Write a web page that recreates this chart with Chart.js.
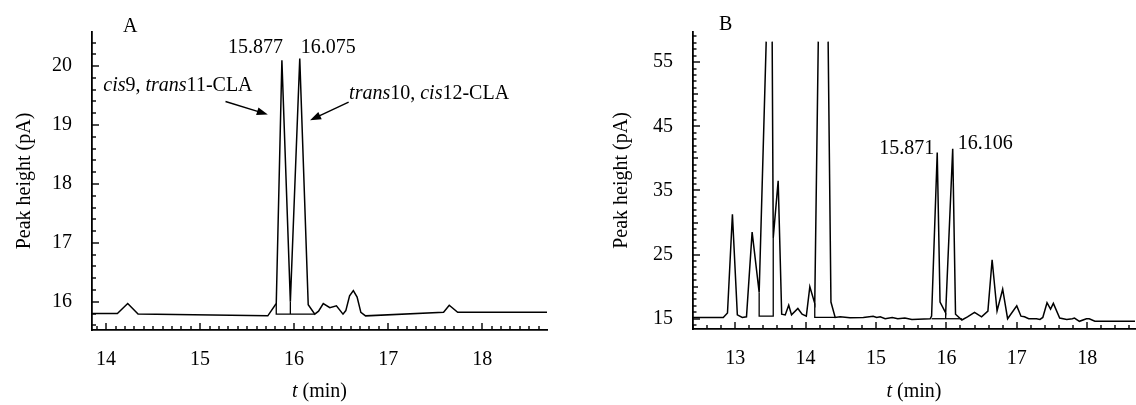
<!DOCTYPE html>
<html><head><meta charset="utf-8">
<script src="https://cdn.jsdelivr.net/npm/chart.js@4.4.1/dist/chart.umd.min.js"></script>
<style>
html,body{margin:0;padding:0;background:#fff;}
#wrap{position:relative;width:1136px;height:405px;overflow:hidden;}
#ca{position:absolute;left:0;top:0;width:560px;height:405px;}
#cb{position:absolute;left:560px;top:0;width:576px;height:405px;}
</style></head><body>
<div id="wrap"><canvas id="ca" width="560" height="405"></canvas><canvas id="cb" width="576" height="405"></canvas></div>
<script>
// ---------- Panel A data ----------
const timeA   = [13.85, 14.12, 14.23, 14.34, 15.72, 15.81, 15.87, 15.96, 16.06, 16.15, 16.22, 16.26, 16.31, 16.38, 16.45, 16.52, 16.55, 16.59, 16.63, 16.67, 16.71, 16.76, 17.59, 17.65, 17.74, 18.69];
const signalA = [15.80, 15.80, 15.97, 15.79, 15.76, 15.97, 20.10, 16.00, 20.13, 15.95, 15.79, 15.84, 15.97, 15.90, 15.93, 15.79, 15.85, 16.10, 16.19, 16.08, 15.82, 15.76, 15.82, 15.94, 15.82, 15.82];
const baseTimeA  = [15.81, 15.81, 16.22];
const baseLevelA = [15.96, 15.79, 15.79];
const dropTimeA  = [15.96, 15.96];
const dropLevelA = [16.00, 15.79];
const xTicksA = [14, 15, 16, 17, 18];
const yTicksA = [16, 17, 18, 19, 20];
const peakLabelsA = ['15.877', '16.075'];

// ---------- Panel B data ----------
const timeB   = [12.40, 12.83, 12.89, 12.96, 13.03, 13.10, 13.16, 13.24, 13.34, 13.44, 13.48, 13.525, 13.54, 13.61, 13.66, 13.71, 13.76, 13.80, 13.89, 13.95, 14.01, 14.06, 14.13, 14.18, 14.25, 14.32, 14.36, 14.42, 14.49, 14.63, 14.82, 14.96, 15.01, 15.06, 15.13, 15.23, 15.31, 15.41, 15.51, 15.77, 15.79, 15.87, 15.91, 15.99, 16.09, 16.13, 16.22, 16.30, 16.40, 16.50, 16.59, 16.65, 16.72, 16.80, 16.87, 17.00, 17.06, 17.11, 17.17, 17.28, 17.33, 17.37, 17.43, 17.48, 17.52, 17.61, 17.71, 17.79, 17.82, 17.89, 17.99, 18.03, 18.11, 18.68];
const signalB = [15.2, 15.2, 15.9, 31.3, 15.6, 15.2, 15.3, 28.5, 19.1, 58.2, null, 58.2, 27.6, 36.5, 15.7, 15.6, 17.1, 15.6, 16.6, 15.7, 15.4, 20.0, 17.4, 58.2, null, 58.2, 17.6, 15.2, 15.3, 15.15, 15.2, 15.4, 15.2, 15.3, 15.0, 15.2, 15.0, 15.1, 14.9, 15.0, 15.4, 40.9, 17.6, 15.9, 41.5, 15.7, 14.8, 15.3, 16.0, 15.3, 16.2, 24.2, 16.2, 19.6, 15.0, 17.0, 15.4, 15.3, 15.0, 15.0, 14.9, 15.2, 17.5, 16.5, 17.4, 15.1, 14.9, 15.0, 15.1, 14.6, 15.0, 15.0, 14.6, 14.6];
const base1TimeB  = [13.34, 13.34, 13.54, 13.54];
const base1LevelB = [19.1, 15.4, 15.4, 27.6];
const base2TimeB  = [14.13, 14.13, 14.42];
const base2LevelB = [17.4, 15.2, 15.2];
const base3TimeB  = [15.79, 16.22];
const base3LevelB = [15.0, 15.0];
const drop3TimeB  = [15.99, 15.99];
const drop3LevelB = [15.9, 15.0];
const xTicksB = [13, 14, 15, 16, 17, 18];
const yTicksB = [15, 25, 35, 45, 55];
const peakLabelsB = ['15.871', '16.106'];

// ---------- helpers ----------
const FONT = '"Liberation Serif", "Times New Roman", serif';
const pts = (xs, ys) => xs.map((x, i) => ({x: x, y: ys[i]}));
const lineDs = (xs, ys, w) => ({data: pts(xs, ys), borderColor: '#000', borderWidth: w || 1.3,
  pointRadius: 0, fill: false, tension: 0, spanGaps: false});

function drawRich(ctx, parts, x, y, align, size) {
  const widths = parts.map(p => { ctx.font = (p.i ? 'italic ' : '') + size + 'px ' + FONT; return ctx.measureText(p.t).width; });
  const total = widths.reduce((a, b) => a + b, 0);
  let cx = align === 'right' ? x - total : (align === 'center' ? x - total / 2 : x);
  ctx.textAlign = 'left'; ctx.textBaseline = 'alphabetic'; ctx.fillStyle = '#000';
  parts.forEach((p, i) => { ctx.font = (p.i ? 'italic ' : '') + size + 'px ' + FONT; ctx.fillText(p.t, cx, y); cx += widths[i]; });
}
function arrow(ctx, x1, y1, x2, y2) {
  const a = Math.atan2(y2 - y1, x2 - x1), L = 11, W = 4;
  ctx.setLineDash([]);
  ctx.strokeStyle = '#000'; ctx.fillStyle = '#000'; ctx.lineWidth = 1.4;
  ctx.beginPath(); ctx.moveTo(x1, y1);
  ctx.lineTo(x2 - (L - 2) * Math.cos(a), y2 - (L - 2) * Math.sin(a)); ctx.stroke();
  ctx.beginPath(); ctx.moveTo(x2, y2);
  ctx.lineTo(x2 - L * Math.cos(a) + W * Math.sin(a), y2 - L * Math.sin(a) - W * Math.cos(a));
  ctx.lineTo(x2 - L * Math.cos(a) - W * Math.sin(a), y2 - L * Math.sin(a) + W * Math.cos(a));
  ctx.closePath(); ctx.fill();
}

function makeChart(canvas, cfg) {
  const tickPlugin = {
    id: 'decor',
    afterDraw(chart) {
      const ctx = chart.ctx, xs = chart.scales.x, ys = chart.scales.y, ca = chart.chartArea;
      ctx.save();
      ctx.fillStyle = '#000';
      // x ticks (pointing inward)
      for (let k = Math.ceil(xs.min / cfg.xMinor - 1e-6); k * cfg.xMinor <= xs.max + 1e-6; k++) {
        const v = k * cfg.xMinor, px = Math.round(xs.getPixelForValue(v));
        const len = cfg.xMajor(v) ? 7 : 4;
        ctx.fillRect(px - 0.7, ca.bottom - len, 1.4, len);
      }
      // y ticks (pointing inward)
      for (let k = Math.ceil(ys.min / cfg.yMinor - 1e-6); k * cfg.yMinor <= ys.max + 1e-6; k++) {
        const v = k * cfg.yMinor, py = Math.round(ys.getPixelForValue(v));
        const len = cfg.yMajor(v);
        ctx.fillRect(ca.left, py - 0.7, len, 1.4);
      }
      // axis titles
      ctx.save();
      ctx.translate(cfg.yTitleX, (ca.top + ca.bottom) / 2);
      ctx.rotate(-Math.PI / 2);
      ctx.font = '20px ' + FONT; ctx.textAlign = 'center'; ctx.textBaseline = 'alphabetic';
      ctx.fillText('Peak height (pA)', 0, 0);
      ctx.restore();
      drawRich(ctx, [{t: 't', i: true}, {t: ' (min)'}], (ca.left + ca.right) / 2, 397, 'center', 20);
      // panel letter
      drawRich(ctx, [{t: cfg.letter}], cfg.letterX, cfg.letterY, 'left', 20);
      // peak labels
      cfg.peaks.forEach(p => {
        const px = xs.getPixelForValue(p.x) + p.dx, py = ys.getPixelForValue(p.y) + p.dy;
        drawRich(ctx, [{t: p.text}], px, py, p.align, 20);
      });
      (cfg.notes || []).forEach(n => {
        drawRich(ctx, n.parts, xs.getPixelForValue(n.x), ys.getPixelForValue(n.y), 'left', 20);
        arrow(ctx, xs.getPixelForValue(n.ax1), ys.getPixelForValue(n.ay1), xs.getPixelForValue(n.ax2), ys.getPixelForValue(n.ay2));
      });
      ctx.restore();
    }
  };
  return new Chart(canvas, {
    type: 'line',
    data: {datasets: cfg.datasets},
    options: {
      responsive: false, animation: false, devicePixelRatio: 1,
      layout: {padding: {top: 15, right: cfg.padRight, left: 0, bottom: 0}},
      plugins: {legend: {display: false}, tooltip: {enabled: false}},
      scales: {
        x: {type: 'linear', min: cfg.xMin, max: cfg.xMax,
          afterBuildTicks: s => { s.ticks = cfg.xTicks.map(v => ({value: v})); },
          afterFit: s => { s.height = cfg.xAxisH; },
          grid: {display: false, drawTicks: false},
          border: {display: true, color: '#000', width: 1.8},
          ticks: {color: '#000', font: {family: FONT, size: 20}, padding: 18, maxRotation: 0, autoSkip: false, callback: v => String(v)}},
        y: {type: 'linear', min: cfg.yMin, max: cfg.yMax,
          afterBuildTicks: s => { s.ticks = cfg.yTicks.map(v => ({value: v})); },
          afterFit: s => { s.width = cfg.yAxisW; },
          grid: {display: false, drawTicks: false},
          border: {display: true, color: '#000', width: 1.8},
          ticks: {color: '#000', font: {family: FONT, size: 20}, padding: 20, autoSkip: false, callback: v => String(v)}}
      }
    },
    plugins: [tickPlugin]
  });
}

const isInt = v => Math.abs(v - Math.round(v)) < 1e-6;

makeChart(document.getElementById('ca'), {
  datasets: [lineDs(timeA, signalA, 1.5), lineDs(baseTimeA, baseLevelA, 1.3), lineDs(dropTimeA, dropLevelA, 1.3)],
  xMin: 13.85, xMax: 18.69, yMin: 15.52, yMax: 20.58, xTicks: xTicksA, yTicks: yTicksA,
  yAxisW: 92, xAxisH: 75, padRight: 13,
  xMinor: 0.1, xMajor: v => isInt(v), yMinor: 0.2, yMajor: v => isInt(v) ? 7 : 4,
  yTitleX: 30, letter: 'A', letterX: 123, letterY: 32,
  peaks: [{x: 15.87, y: 20.10, text: peakLabelsA[0], align: 'right', dx: 1, dy: -7},
          {x: 16.06, y: 20.13, text: peakLabelsA[1], align: 'left', dx: 1, dy: -6}],
  notes: [
    {parts: [{t: 'cis', i: true}, {t: '9, '}, {t: 'trans', i: true}, {t: '11-CLA'}], x: 13.97, y: 19.58,
     ax1: 15.27, ay1: 19.40, ax2: 15.72, ay2: 19.18},
    {parts: [{t: 'trans', i: true}, {t: '10, '}, {t: 'cis', i: true}, {t: '12-CLA'}], x: 16.585, y: 19.45,
     ax1: 16.58, ay1: 19.39, ax2: 16.17, ay2: 19.08}
  ]
});

makeChart(document.getElementById('cb'), {
  datasets: [lineDs(timeB, signalB, 1.5), lineDs(base1TimeB, base1LevelB, 1.3), lineDs(base2TimeB, base2LevelB, 1.3),
             lineDs(base3TimeB, base3LevelB, 1.3), lineDs(drop3TimeB, drop3LevelB, 1.3)],
  xMin: 12.40, xMax: 18.68, yMin: 13.4, yMax: 59.7, xTicks: xTicksB, yTicks: yTicksB,
  yAxisW: 133, xAxisH: 76, padRight: 1,
  xMinor: 0.2, xMajor: v => isInt(v), yMinor: 1,
  yMajor: v => { const r = Math.round(v); return (r % 10 === 5) ? 7 : (r % 5 === 0 ? 5 : 3.5); },
  yTitleX: 67, letter: 'B', letterX: 159, letterY: 30,
  peaks: [{x: 15.87, y: 40.9, text: peakLabelsB[0], align: 'right', dx: -3, dy: 1},
          {x: 16.09, y: 41.5, text: peakLabelsB[1], align: 'left', dx: 5, dy: 0}]
});
</script>
</body></html>
